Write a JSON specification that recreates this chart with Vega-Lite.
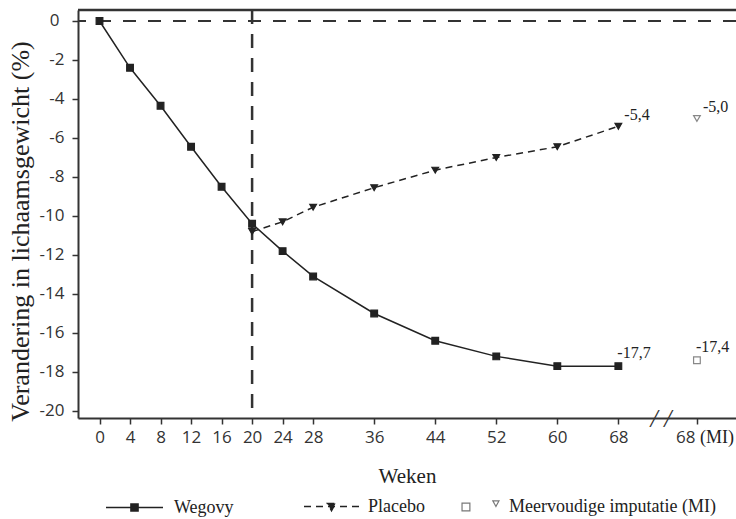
{
  "$schema": "https://vega.github.io/schema/vega-lite/v6.json",
  "width": 658,
  "height": 408,
  "autosize": {"type": "none"},
  "padding": {"left": 78, "top": 10, "right": 0, "bottom": 101},
  "background": "white",
  "config": {
    "view": {"stroke": null},
    "font": "Liberation Serif",
    "legend": {
      "orient": "none", "legendY": 468, "direction": "horizontal", "title": null,
      "symbolStrokeWidth": 1.5, "symbolOpacity": 1,
      "labelFont": "Liberation Serif", "labelFontSize": 18, "labelColor": "#222", "labelLimit": 500,
      "padding": 0, "offset": 0
    }
  },
  "datasets": {
    "one": [{}]
  },
  "data": {"values": [
    {"week": 0, "value": 0, "series": "Wegovy", "arm": "Wegovy", "mi": false, "label": null},
    {"week": 4, "value": -2.4, "series": "Wegovy", "arm": "Wegovy", "mi": false, "label": null},
    {"week": 8, "value": -4.35, "series": "Wegovy", "arm": "Wegovy", "mi": false, "label": null},
    {"week": 12, "value": -6.45, "series": "Wegovy", "arm": "Wegovy", "mi": false, "label": null},
    {"week": 16, "value": -8.5, "series": "Wegovy", "arm": "Wegovy", "mi": false, "label": null},
    {"week": 20, "value": -10.4, "series": "Wegovy", "arm": "Wegovy", "mi": false, "label": null},
    {"week": 24, "value": -11.8, "series": "Wegovy", "arm": "Wegovy", "mi": false, "label": null},
    {"week": 28, "value": -13.1, "series": "Wegovy", "arm": "Wegovy", "mi": false, "label": null},
    {"week": 36, "value": -15.0, "series": "Wegovy", "arm": "Wegovy", "mi": false, "label": null},
    {"week": 44, "value": -16.4, "series": "Wegovy", "arm": "Wegovy", "mi": false, "label": null},
    {"week": 52, "value": -17.2, "series": "Wegovy", "arm": "Wegovy", "mi": false, "label": null},
    {"week": 60, "value": -17.7, "series": "Wegovy", "arm": "Wegovy", "mi": false, "label": null},
    {"week": 68, "value": -17.7, "series": "Wegovy", "arm": "Wegovy", "mi": false, "label": "-17,7"},
    {"week": 20, "value": -10.8, "series": "Placebo", "arm": "Placebo", "mi": false, "label": null},
    {"week": 24, "value": -10.3, "series": "Placebo", "arm": "Placebo", "mi": false, "label": null},
    {"week": 28, "value": -9.55, "series": "Placebo", "arm": "Placebo", "mi": false, "label": null},
    {"week": 36, "value": -8.55, "series": "Placebo", "arm": "Placebo", "mi": false, "label": null},
    {"week": 44, "value": -7.65, "series": "Placebo", "arm": "Placebo", "mi": false, "label": null},
    {"week": 52, "value": -7.0, "series": "Placebo", "arm": "Placebo", "mi": false, "label": null},
    {"week": 60, "value": -6.45, "series": "Placebo", "arm": "Placebo", "mi": false, "label": null},
    {"week": 68, "value": -5.4, "series": "Placebo", "arm": "Placebo", "mi": false, "label": "-5,4"},
    {"week": 68, "value": -17.4, "series": "MI Wegovy", "arm": "Wegovy", "mi": true, "label": "-17,4"},
    {"week": 68, "value": -5.0, "series": "MI placebo", "arm": "Placebo", "mi": true, "label": "-5,0"}
  ]},
  "transform": [{"calculate": "datum.mi ? 78.3 : datum.week", "as": "xpos"}],
  "resolve": {
    "scale": {"shape": "independent", "fill": "independent", "stroke": "independent", "strokeDash": "independent"},
    "legend": {"shape": "independent", "fill": "independent", "stroke": "independent", "strokeDash": "independent"}
  },
  "layer": [
    {
      "data": {"name": "one"},
      "mark": {"type": "rule", "color": "#333", "strokeWidth": 2, "strokeDash": [13, 12]},
      "encoding": {"y": {"datum": 0, "type": "quantitative"}}
    },
    {
      "data": {"name": "one"},
      "mark": {"type": "rule", "color": "#333", "strokeWidth": 2.5, "strokeDash": [14, 10]},
      "encoding": {"x": {"datum": 20, "type": "quantitative"}}
    },
    {
      "data": {"name": "one"},
      "mark": {"type": "rule", "color": "#333", "strokeWidth": 2.5},
      "encoding": {"y": {"datum": 0.564, "type": "quantitative"}}
    },
    {
      "transform": [{"filter": "datum.series == 'Wegovy'"}],
      "mark": {"type": "line", "color": "#222", "strokeWidth": 1.5},
      "encoding": {
        "x": {
          "field": "xpos", "type": "quantitative",
          "scale": {"domain": [-2.818, 83.42], "nice": false, "zero": false},
          "axis": {
            "values": [0, 4, 8, 12, 16, 20, 24, 28, 36, 44, 52, 60, 68, 78.3],
            "labelExpr": "datum.value > 75 ? '68' : datum.label",
            "title": "Weken",
            "titleFont": "Liberation Serif", "titleFontSize": 21, "titleFontWeight": "normal", "titleColor": "#222",
            "titleY": 64, "titleBaseline": "alphabetic",
            "labelFont": "Open Sans", "labelFontSize": 17, "labelColor": "#333", "labelPadding": 5,
            "labelAlign": {"condition": {"test": "datum.value > 75", "value": "right"}, "value": "center"},
            "labelOffset": {"condition": {"test": "datum.value > 75", "value": -2}, "value": 0},
            "labelFlush": false, "labelOverlap": false, "labelBound": false,
            "tickSize": 6, "tickColor": "#333", "tickWidth": 1.5,
            "domainColor": "#333", "domainWidth": 2, "grid": false
          }
        },
        "y": {
          "field": "value", "type": "quantitative",
          "scale": {"domain": [-20.36, 0.564], "nice": false, "zero": false},
          "axis": {
            "values": [-20, -18, -16, -14, -12, -10, -8, -6, -4, -2, 0],
            "labelExpr": "datum.value == 0 ? '0' : '-' + abs(datum.value)",
            "title": "Verandering in lichaamsgewicht (%)",
            "titleFont": "Liberation Serif", "titleFontSize": 26, "titleFontWeight": "normal", "titleColor": "#222",
            "titleAngle": 270, "titleX": -50, "titleY": 221, "titleAlign": "center", "titleBaseline": "alphabetic",
            "labelFont": "Open Sans", "labelFontSize": 17, "labelColor": "#333",
            "labelPadding": {"condition": {"test": "datum.value == 0", "value": 13}, "value": 8},
            "labelFlush": false, "labelOverlap": false, "labelBound": false,
            "tickSize": 6, "tickColor": "#333", "tickWidth": 1.5,
            "domainColor": "#333", "domainWidth": 2, "grid": false
          }
        }
      }
    },
    {
      "transform": [{"filter": "datum.series == 'Placebo'"}],
      "mark": {"type": "line", "color": "#222", "strokeWidth": 1.5, "strokeDash": [7, 5]},
      "encoding": {
        "x": {"field": "xpos", "type": "quantitative"},
        "y": {"field": "value", "type": "quantitative"}
      }
    },
    {
      "mark": {"type": "point", "filled": true, "opacity": 1, "size": 45, "strokeWidth": 1.2},
      "encoding": {
        "x": {"field": "xpos", "type": "quantitative"},
        "y": {"field": "value", "type": "quantitative"},
        "shape": {"condition": {"test": "datum.arm == 'Placebo'", "value": "triangle-down"}, "value": "square"},
        "fill": {"condition": {"test": "datum.mi", "value": "white"}, "value": "#222"},
        "stroke": {"condition": {"test": "datum.mi", "value": "#888"}, "value": "#222"}
      }
    },
    {
      "data": {"values": [{"entry": "Wegovy"}]},
      "mark": {"type": "point", "filled": true, "opacity": 0},
      "encoding": {
        "shape": {
          "field": "entry", "type": "nominal",
          "scale": {"range": ["M-1,0H1M-0.125,-0.125H0.125V0.125H-0.125Z"]},
          "legend": {"legendX": 27, "symbolSize": 3249, "labelOffset": 10}
        },
        "fill": {"field": "entry", "type": "nominal", "scale": {"range": ["#222"]}},
        "stroke": {"field": "entry", "type": "nominal", "scale": {"range": ["#222"]}},
        "strokeDash": {"field": "entry", "type": "nominal", "scale": {"range": [[1, 0]]}}
      }
    },
    {
      "data": {"values": [{"entry": "Placebo"}]},
      "mark": {"type": "point", "filled": true, "opacity": 0},
      "encoding": {
        "shape": {
          "field": "entry", "type": "nominal",
          "scale": {"range": ["M-1,0H1M-0.15,-0.11H0.15L0,0.15Z"]},
          "legend": {"legendX": 225, "symbolSize": 3025, "labelOffset": 8}
        },
        "fill": {"field": "entry", "type": "nominal", "scale": {"range": ["#222"]}},
        "stroke": {"field": "entry", "type": "nominal", "scale": {"range": ["#222"]}},
        "strokeDash": {"field": "entry", "type": "nominal", "scale": {"range": [[7, 5]]}}
      }
    },
    {
      "data": {"values": [{"entry": "Meervoudige imputatie (MI)"}]},
      "mark": {"type": "point", "filled": true, "opacity": 0},
      "encoding": {
        "shape": {
          "field": "entry", "type": "nominal",
          "scale": {"range": ["M-0.32,-0.14H-0.04V0.14H-0.32Z M0.78,-0.22H1.0L0.89,-0.02Z"]},
          "legend": {"legendX": 364, "symbolSize": 3136, "labelOffset": 9, "symbolStrokeWidth": 1.2}
        },
        "fill": {"field": "entry", "type": "nominal", "scale": {"range": ["white"]}},
        "stroke": {"field": "entry", "type": "nominal", "scale": {"range": ["#777"]}},
        "strokeDash": {"field": "entry", "type": "nominal", "scale": {"range": [[1, 0]]}}
      }
    },
    {
      "transform": [{"filter": "datum.label != null && datum.arm == 'Placebo'"}],
      "mark": {"type": "text", "font": "Liberation Serif", "fontSize": 16, "color": "#222", "align": "left", "baseline": "middle", "dx": 6, "dy": -11},
      "encoding": {
        "x": {"field": "xpos", "type": "quantitative"},
        "y": {"field": "value", "type": "quantitative"},
        "text": {"field": "label"}
      }
    },
    {
      "transform": [{"filter": "datum.label != null && datum.arm == 'Wegovy'"}],
      "mark": {"type": "text", "font": "Liberation Serif", "fontSize": 16, "color": "#222", "align": "left", "baseline": "middle", "dx": -1, "dy": -13},
      "encoding": {
        "x": {"field": "xpos", "type": "quantitative"},
        "y": {"field": "value", "type": "quantitative"},
        "text": {"field": "label"}
      }
    },
    {
      "data": {"name": "one"},
      "mark": {"type": "text", "font": "Liberation Serif", "fontSize": 18, "color": "#222", "align": "left", "baseline": "middle", "dx": 3, "dy": 20},
      "encoding": {
        "x": {"datum": 78.3, "type": "quantitative"},
        "y": {"datum": -20.36, "type": "quantitative"},
        "text": {"value": "(MI)"}
      }
    },
    {
      "data": {"name": "one"},
      "mark": {"type": "text", "font": "Liberation Serif", "fontStyle": "italic", "fontSize": 26, "color": "#333", "align": "center", "baseline": "middle", "dy": 1},
      "encoding": {
        "x": {"datum": 73.6, "type": "quantitative"},
        "y": {"datum": -20.36, "type": "quantitative"},
        "text": {"value": "/ /"}
      }
    }
  ]
}
